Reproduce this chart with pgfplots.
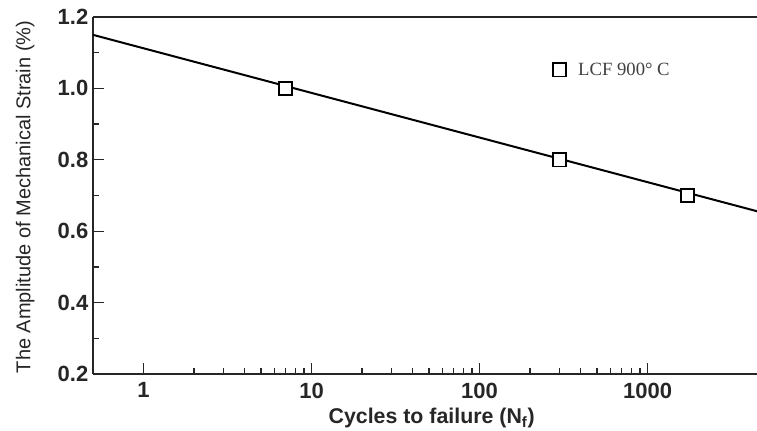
\documentclass[border=0pt]{standalone}
\usepackage{pgfplots}
\pgfplotsset{compat=1.18}
\usepackage{fontspec}
\setmainfont{Liberation Sans}
\newfontfamily\timesf{Liberation Serif}
\begin{document}
\begin{tikzpicture}
\begin{axis}[
  name=ax,
  scale only axis, width=504pt, height=267.75pt,
  xmode=log, xmin=0.5, xmax=5000, ymin=0.2, ymax=1.2,
  axis x line*=box, axis y line*=left,
  xtick pos=bottom, ytick pos=left,
  tick align=inside,
  xtick={1,10,100,1000}, xticklabels={1,10,100,1000},
  ytick={0.2,0.4,0.6,0.8,1.0,1.2},
  minor ytick={0.3,0.5,0.7,0.9,1.1},
  yticklabel style={/pgf/number format/fixed,/pgf/number format/fixed zerofill,/pgf/number format/precision=1},
  /pgf/number format/assume math mode=true,
  ticklabel style={font=\fontsize{16.5}{19}\selectfont\bfseries, text=black!85},
  xticklabel style={yshift=-3pt},
  major tick length=8pt, minor tick length=4.5pt,
  axis line style={line width=1.4pt, black!85},
  every tick/.style={line width=1pt, black!85},
  xlabel={Cycles to failure (N\textsubscript{f})},
  ylabel={The Amplitude of Mechanical Strain (\%)},
  xlabel style={at={(axis description cs:0.504,-0.124)}, anchor=center, font=\fontsize{16}{18}\selectfont\bfseries, text=black!85},
  ylabel style={at={(axis description cs:-0.101,0.496)}, anchor=center, font=\fontsize{15}{17}\selectfont, text=black!85},
  legend style={draw=none, fill=none, at={(axis description cs:0.678,0.852)}, anchor=west, font=\fontsize{14}{16}\selectfont\timesf, text=black!75},
]
\addplot[black, line width=1.5pt, forget plot] coordinates {(0.5,1.150) (5000,0.650)};
\addplot[only marks, mark=square*, mark size=5pt, mark options={fill=white, draw=black, line width=1.4pt}] coordinates {(7,1.0) (300,0.8) (1730,0.7)};
\addlegendentry{\hspace{7pt}LCF 900° C}
\end{axis}
\pgfresetboundingbox
\useasboundingbox ([xshift=-69.75pt,yshift=-42pt]ax.south west) rectangle ([xshift=498pt,yshift=280.5pt]ax.south west);
\end{tikzpicture}
\end{document}
